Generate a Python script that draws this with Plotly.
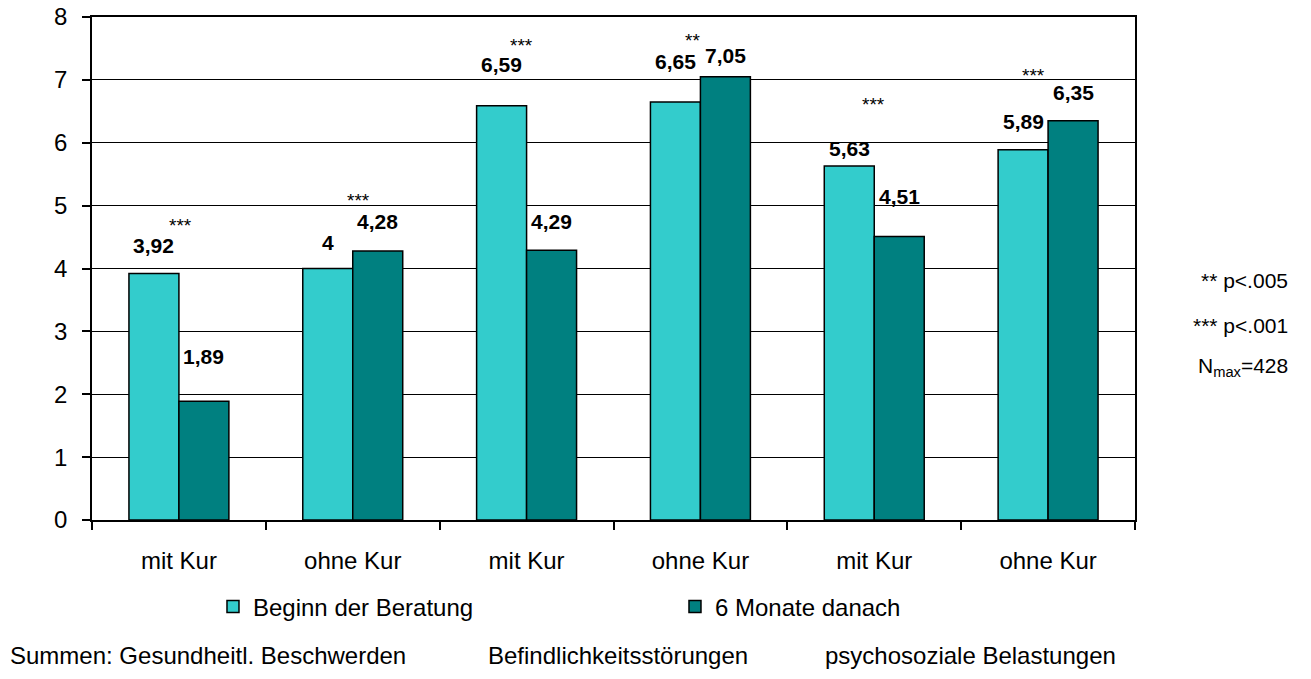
import plotly.graph_objects as go

categories = ["mit Kur", "ohne Kur", "mit Kur", "ohne Kur", "mit Kur", "ohne Kur"]
beginn = [3.92, 4.00, 6.59, 6.65, 5.63, 5.89]
danach = [1.89, 4.28, 4.29, 7.05, 4.51, 6.35]
signif = ["***", "***", "***", "**", "***", "***"]
beginn_text = ["3,92", "4", "6,59", "6,65", "5,63", "5,89"]
danach_text = ["1,89", "4,28", "4,29", "7,05", "4,51", "6,35"]

# label lifts in px (hand placed in the original)
lift_b = [28, 26, 41, 40, 18, 28]
lift_d = [45, 29, 29, 21, 40, 28]
star_lift = [50, 52, 62, 38, 64, 47]
star_dx = [2, 6, -5, -8, -1, -15]

xs = list(range(len(categories)))
FONT = "Liberation Sans, Arial, sans-serif"

fig = go.Figure()
fig.add_trace(go.Bar(x=xs, y=beginn, name="Beginn der Beratung",
                     marker=dict(color="#33CCCC", line=dict(color="black", width=1.5))))
fig.add_trace(go.Bar(x=xs, y=danach, name="6 Monate danach",
                     marker=dict(color="#008080", line=dict(color="black", width=1.5))))

off = 0.144
for i in xs:
    fig.add_annotation(x=i - off, y=beginn[i], text="<b>%s</b>" % beginn_text[i],
                       showarrow=False, yshift=lift_b[i],
                       font=dict(family=FONT, size=21, color="black"))
    fig.add_annotation(x=i + off, y=danach[i], text="<b>%s</b>" % danach_text[i],
                       showarrow=False, yshift=lift_d[i],
                       font=dict(family=FONT, size=21, color="black"))
    fig.add_annotation(x=i, y=max(beginn[i], danach[i]), text=signif[i],
                       showarrow=False, yshift=star_lift[i] - 2, xshift=star_dx[i],
                       font=dict(family=FONT, size=19, color="black"))

# right side notes
notes = ["** p<.005", "*** p<.001", "N<sub>max</sub>=428"]
note_y = [280, 325, 367]
for k, t in enumerate(notes):
    fig.add_annotation(xref="paper", yref="paper", x=(1290 - 92) / 1043, y=(520 - note_y[k]) / 503,
                       xanchor="right", yanchor="middle", text=t, showarrow=False,
                       font=dict(family=FONT, size=21, color="black"))

# bottom caption
cap_y = (520 - 655) / 503
fig.add_annotation(xref="paper", yref="paper", x=(8 - 92) / 1043, y=cap_y,
                   xanchor="left", yanchor="middle", showarrow=False,
                   text="Summen: Gesundheitl. Beschwerden",
                   font=dict(family=FONT, size=24, color="black"))
fig.add_annotation(xref="paper", yref="paper", x=(618 - 92) / 1043, y=cap_y,
                   xanchor="center", yanchor="middle", showarrow=False,
                   text="Befindlichkeitsstörungen",
                   font=dict(family=FONT, size=24, color="black"))
fig.add_annotation(xref="paper", yref="paper", x=(970 - 92) / 1043, y=cap_y,
                   xanchor="center", yanchor="middle", showarrow=False,
                   text="psychosoziale Belastungen",
                   font=dict(family=FONT, size=24, color="black"))

fig.update_layout(
    width=1311, height=679,
    margin=dict(l=92, r=176, t=17, b=159),
    paper_bgcolor="white", plot_bgcolor="white",
    barmode="group", bargap=0.425, bargroupgap=0,
    font=dict(family=FONT, size=24, color="black"),
    legend=dict(orientation="h", x=0.116, xanchor="left", y=(520 - 607) / 503, yanchor="middle",
                entrywidth=417, entrywidthmode="pixels", itemwidth=30,
                font=dict(family=FONT, size=24, color="black")),
    xaxis=dict(range=[-0.5, 5.5], tickvals=xs, ticktext=categories, ticks="",
               showline=True, linecolor="black", linewidth=1.5, mirror=True,
               showgrid=False, zeroline=False, ticklabelstandoff=18, automargin=False,
               minor=dict(tickvals=[i - 0.5 for i in range(7)], ticks="outside",
                          ticklen=8, tickcolor="black", tickwidth=1.5, showgrid=False),
               tickfont=dict(size=24)),
    yaxis=dict(range=[0, 8], dtick=1, ticks="outside", ticklen=8, tickcolor="black",
               tickwidth=1.5, showline=True, linecolor="black", linewidth=1.5, mirror=True,
               showgrid=True, gridcolor="black", gridwidth=1, zeroline=False, automargin=False,
               ticklabelstandoff=10, ticklabeloverflow="allow", tickfont=dict(size=24)),
)

# drop the default 8px body margin so the figure fills the window
fig.write_html("out.html", config={"displayModeBar": False},
               post_script="document.body.style.margin='0';")
